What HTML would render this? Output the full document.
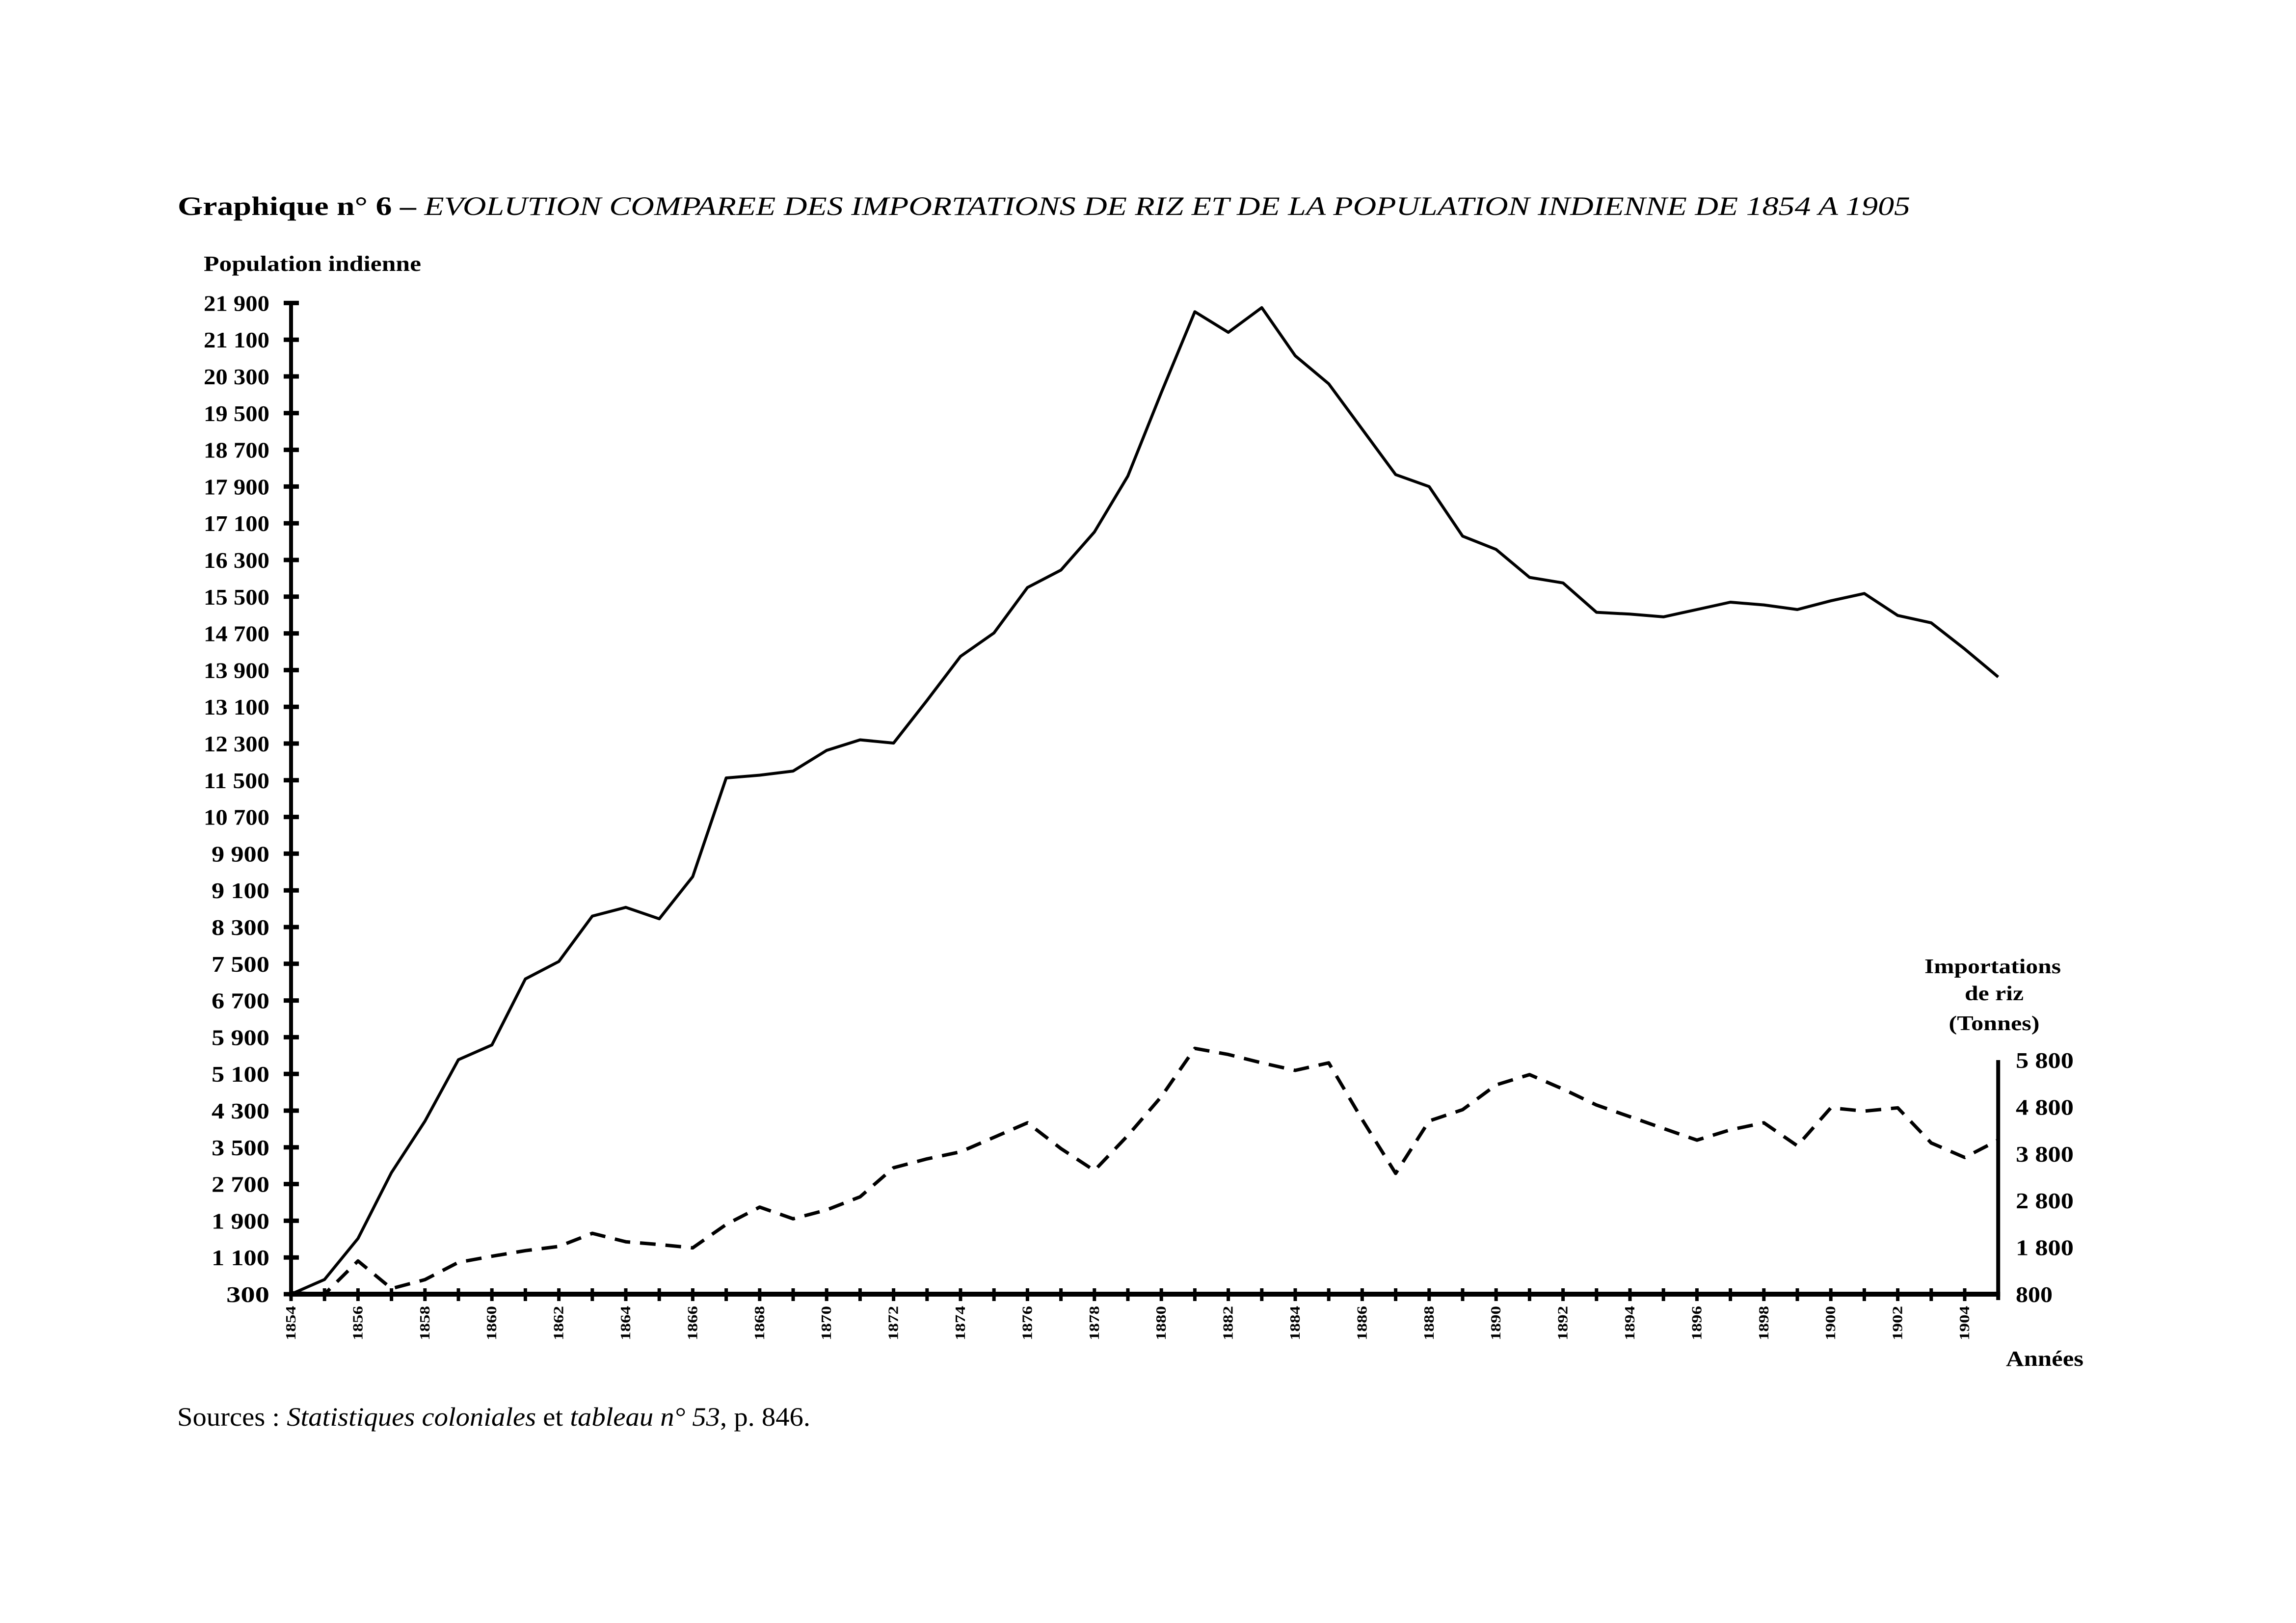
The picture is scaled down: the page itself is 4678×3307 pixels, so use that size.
<!DOCTYPE html>
<html><head><meta charset="utf-8"><style>
html,body{margin:0;padding:0;background:#fff;}
svg{display:block;}
</style></head><body>
<svg id="chart" width="4678" height="3307" viewBox="0 0 4678 3307" xmlns="http://www.w3.org/2000/svg">
<rect width="4678" height="3307" fill="#fff"/>
<text x="362" y="438" font-family="Liberation Serif, serif" font-size="54" textLength="3530" lengthAdjust="spacingAndGlyphs"><tspan font-weight="bold">Graphique n° 6 – </tspan><tspan font-style="italic">EVOLUTION COMPAREE DES IMPORTATIONS DE RIZ ET DE LA POPULATION INDIENNE DE 1854 A 1905</tspan></text>
<text x="415" y="552" font-family="Liberation Serif, serif" font-weight="bold" font-size="44" textLength="443" lengthAdjust="spacingAndGlyphs">Population indienne</text>
<g id="right-title" font-family="Liberation Serif, serif" font-weight="bold" font-size="42" text-anchor="middle">
<text x="4060" y="1983" textLength="278" lengthAdjust="spacingAndGlyphs">Importations</text>
<text x="4063" y="2038" textLength="120" lengthAdjust="spacingAndGlyphs">de riz</text>
<text x="4063" y="2099" textLength="185" lengthAdjust="spacingAndGlyphs">(Tonnes)</text>
</g>
<text x="4087" y="2783" font-family="Liberation Serif, serif" font-weight="bold" font-size="44" textLength="158" lengthAdjust="spacingAndGlyphs">Années</text>
<text x="361" y="2905" font-family="Liberation Serif, serif" font-size="54" textLength="1290" lengthAdjust="spacingAndGlyphs">Sources : <tspan font-style="italic">Statistiques coloniales</tspan> et <tspan font-style="italic">tableau n° 53</tspan>, p. 846.</text>
<g id="axes"></g>
<g id="series"></g>
</svg>
<script>
const years = [1854,1855,1856,1857,1858,1859,1860,1861,1862,1863,1864,1865,1866,1867,1868,1869,1870,1871,1872,1873,1874,1875,1876,1877,1878,1879,1880,1881,1882,1883,1884,1885,1886,1887,1888,1889,1890,1891,1892,1893,1894,1895,1896,1897,1898,1899,1900,1901,1902,1903,1904,1905];
const population = [300,620,1514,2950,4070,5410,5730,7170,7550,8540,8730,8480,9400,11550,11610,11700,12150,12380,12310,13240,14200,14710,15700,16080,16910,18130,19950,21710,21260,21800,20750,20140,19150,18160,17900,16820,16530,15920,15800,15160,15120,15060,15220,15380,15320,15220,15410,15570,15090,14930,14360,13750];
const rice = [830,800,1510,920,1110,1480,1610,1730,1820,2100,1920,1860,1790,2290,2660,2410,2600,2880,3500,3690,3840,4150,4460,3910,3440,4190,5020,6050,5920,5740,5580,5740,4530,3380,4500,4740,5270,5490,5180,4840,4590,4340,4090,4310,4460,3970,4780,4710,4780,4030,3720,4090];
const leftTicks = [300,1100,1900,2700,3500,4300,5100,5900,6700,7500,8300,9100,9900,10700,11500,12300,13100,13900,14700,15500,16300,17100,17900,18700,19500,20300,21100,21900];
const rightTicks = [800,1800,2800,3800,4800,5800];
const yearLabels = [1854,1856,1858,1860,1862,1864,1866,1868,1870,1872,1874,1876,1878,1880,1882,1884,1886,1888,1890,1892,1894,1896,1898,1900,1902,1904];

const NS = "http://www.w3.org/2000/svg";
const X0 = 593, XSTEP = 68.2, Y0 = 2637;
const x = yr => X0 + (yr - 1854) * XSTEP;
const yL = v => Y0 - (v - 300) / 800 * 74.8;
const yR = v => Y0 - (v - 800) / 1000 * 95.4;
function mk(tag, attrs, parent){const e=document.createElementNS(NS,tag);for(const k in attrs)e.setAttribute(k,attrs[k]);parent.appendChild(e);return e;}
const axes = document.getElementById('axes');
const series = document.getElementById('series');

let e = mk('line',{x1:X0,y1:yL(21900)-4,x2:X0,y2:Y0+4,stroke:'#000','stroke-width':8},axes);


leftTicks.forEach(v=>{
  const t = mk('line',{x1:X0-15,y1:yL(v),x2:X0+16,y2:yL(v),stroke:'#000','stroke-width':9},axes);
  
  
  const s = v.toLocaleString('fr-FR').replace(/\s|\u202f|\u00a0/g,' ');
  const lb = mk('text',{x:549,y:yL(v)+16,'text-anchor':'end','font-family':'Liberation Serif, serif','font-weight':'bold','font-size':46,textLength: s.length>=6?134:(s.length===5?118:88),lengthAdjust:'spacingAndGlyphs'},axes);
  lb.textContent = s;
  
  
});
const xEnd = x(1905);
e = mk('line',{x1:X0-4,y1:Y0,x2:xEnd+4,y2:Y0,stroke:'#000','stroke-width':10},axes);


e = mk('line',{x1:xEnd,y1:yR(5800),x2:xEnd,y2:Y0+12,stroke:'#000','stroke-width':8},axes);


rightTicks.forEach(v=>{
  const s = v.toLocaleString('fr-FR').replace(/\s|\u202f|\u00a0/g,' ');
  const lb = mk('text',{x:4107,y:yR(v)+16,'font-family':'Liberation Serif, serif','font-weight':'bold','font-size':46,textLength: s.length>3?118:75,lengthAdjust:'spacingAndGlyphs'},axes);
  lb.textContent = s;
  
  
});
years.forEach(yr=>{
  if (yr===1905) return;
  const t = mk('line',{x1:x(yr),y1:Y0-12,x2:x(yr),y2:Y0+14,stroke:'#000','stroke-width':7},axes);
  
  
});
yearLabels.forEach(yr=>{
  const cx = x(yr), cy = 2696;
  const lb = mk('text',{x:cx,y:cy+9,'text-anchor':'middle','font-family':'Liberation Serif, serif','font-weight':'bold','font-size':28,textLength:70,lengthAdjust:'spacingAndGlyphs',transform:`rotate(-90 ${cx} ${cy})`},axes);
  lb.textContent = yr;
  
  
});
const popPts = years.map((yr,i)=>`${x(yr).toFixed(1)},${yL(population[i]).toFixed(1)}`).join(' ');
e = mk('polyline',{points:popPts,fill:'none',stroke:'#000','stroke-width':6,'stroke-linejoin':'round'},series);


const ricePts = years.map((yr,i)=>`${x(yr).toFixed(1)},${yR(rice[i]).toFixed(1)}`).join(' ');
e = mk('polyline',{points:ricePts,fill:'none',stroke:'#000','stroke-width':7,'stroke-dasharray':'32 20','stroke-linejoin':'round'},series);


</script>
</body></html>
